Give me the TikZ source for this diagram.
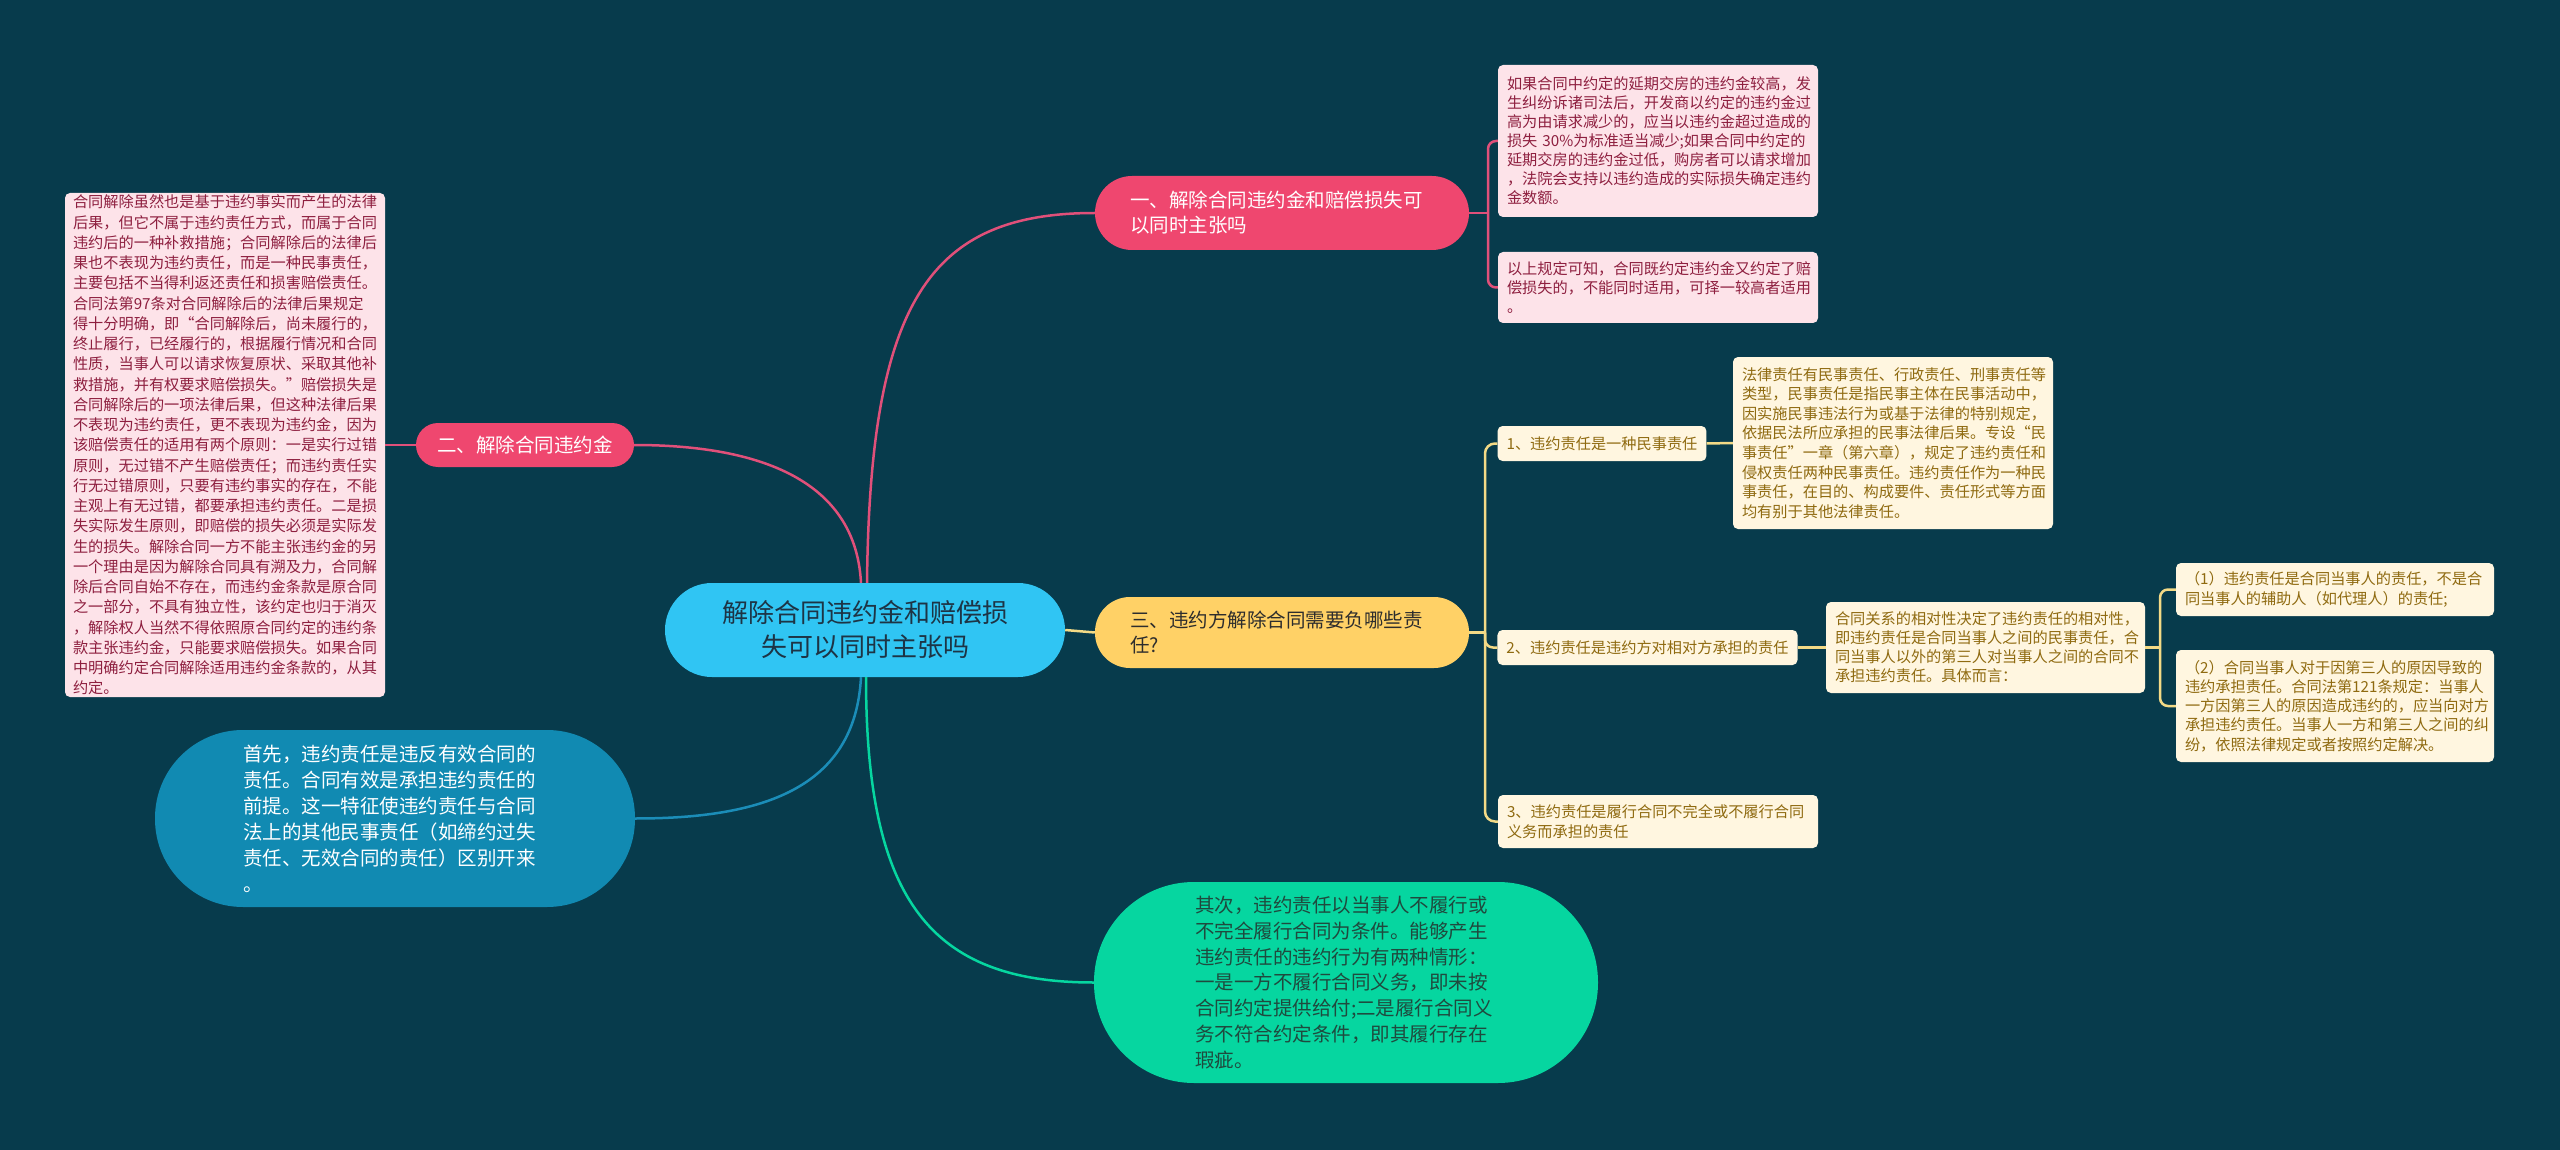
\documentclass[tikz,border=0pt]{standalone}
\usepackage{fontspec}
\newfontfamily\cjk{Noto Sans CJK SC}
\definecolor{bg}{HTML}{073B4C}
\definecolor{cyanC}{HTML}{30C5F3}
\definecolor{ctext}{HTML}{1D3445}
\definecolor{pinkC}{HTML}{EF476F}
\definecolor{pinkLine}{HTML}{E0507A}
\definecolor{yellowC}{HTML}{FFD166}
\definecolor{yellowLine}{HTML}{F3DA86}
\definecolor{greenC}{HTML}{06D6A0}
\definecolor{greenT}{HTML}{1F4A3E}
\definecolor{blueC}{HTML}{118AB2}
\definecolor{blueLine}{HTML}{1B8DB8}
\definecolor{pinkL}{HTML}{FDE3E9}
\definecolor{pinkT}{HTML}{8E1F3F}
\definecolor{yellowL}{HTML}{FFF6E0}
\definecolor{yellowT}{HTML}{8F6A10}
\definecolor{darkT}{HTML}{2D2D2D}
\begin{document}
\begin{tikzpicture}[x=1pt,y=-1pt,
  every node/.style={font=\cjk, inner ysep=0pt},
  fS/.style={font=\cjk\fontsize{15.2pt}{#1}\selectfont},
  fM/.style={font=\cjk\fontsize{19.5pt}{#1}\selectfont},
  pbox/.style={fill=pinkL, text=pinkT, rounded corners=5pt, align=left, inner xsep=9pt},
  ybox/.style={fill=yellowL, text=yellowT, rounded corners=5pt, align=left, inner xsep=9pt},
  pl/.style={draw=pinkLine, line width=2.5pt},
  yl/.style={draw=yellowLine, line width=2.5pt},
  bl/.style={draw=blueLine, line width=2.5pt},
  gl/.style={draw=greenC, line width=2.5pt}]
\fill[bg] (0,0) rectangle (2560,1150);
\useasboundingbox (0,0) rectangle (2560,1150);

% central
\node[fill=cyanC, text=ctext, minimum width=400pt, minimum height=94pt, rounded corners=47pt,
  align=center, font=\cjk\fontsize{26pt}{34pt}\selectfont] (c) at (865,630)
  {解除合同违约金和赔偿损\\失可以同时主张吗};

% main branches
\node[fill=pinkC, text=white, text width=304pt, inner xsep=35pt, minimum height=74pt,
  rounded corners=37pt, align=left, fM=25pt] (n1) at (1282,213)
  {一、解除合同违约金和赔偿损失可\\以同时主张吗};
\node[fill=yellowC, text=darkT, text width=304pt, inner xsep=35pt, minimum height=71pt,
  rounded corners=35pt, align=left, fM=25pt] (n3) at (1282,632.5)
  {三、违约方解除合同需要负哪些责\\任?};
\node[fill=pinkC, text=white, minimum width=218pt, minimum height=44pt,
  rounded corners=22pt, fM=25pt] (n2) at (525,445) {二、解除合同违约金};
\node[fill=blueC, text=white, text width=304pt, inner xsep=88pt, minimum height=177pt,
  rounded corners=88pt, align=left, fM=26pt] (bn) at (395,818.5)
  {首先，违约责任是违反有效合同的\\责任。合同有效是承担违约责任的\\前提。这一特征使违约责任与合同\\法上的其他民事责任（如缔约过失\\责任、无效合同的责任）区别开来\\。};
\node[fill=greenC, text=greenT, text width=302pt, inner xsep=101pt, minimum height=201pt,
  rounded corners=100pt, align=left, fM=25.8pt] (gn) at (1346,982.5)
  {其次，违约责任以当事人不履行或\\不完全履行合同为条件。能够产生\\违约责任的违约行为有两种情形：\\一是一方不履行合同义务，即未按\\合同约定提供给付;二是履行合同义\\务不符合约定条件，即其履行存在\\瑕疵。};

% left detail
\node[pbox, text width=304pt, inner xsep=8pt, minimum height=504pt, fS=20.25pt] (tl) at (225,445)
  {合同解除虽然也是基于违约事实而产生的法律\\后果，但它不属于违约责任方式，而属于合同\\违约后的一种补救措施；合同解除后的法律后\\果也不表现为违约责任，而是一种民事责任，\\主要包括不当得利返还责任和损害赔偿责任。\\合同法第97条对合同解除后的法律后果规定\\得十分明确，即“合同解除后，尚未履行的，\\终止履行，已经履行的，根据履行情况和合同\\性质，当事人可以请求恢复原状、采取其他补\\救措施，并有权要求赔偿损失。”赔偿损失是\\合同解除后的一项法律后果，但这种法律后果\\不表现为违约责任，更不表现为违约金，因为\\该赔偿责任的适用有两个原则：一是实行过错\\原则，无过错不产生赔偿责任；而违约责任实\\行无过错原则，只要有违约事实的存在，不能\\主观上有无过错，都要承担违约责任。二是损\\失实际发生原则，即赔偿的损失必须是实际发\\生的损失。解除合同一方不能主张违约金的另\\一个理由是因为解除合同具有溯及力，合同解\\除后合同自始不存在，而违约金条款是原合同\\之一部分，不具有独立性，该约定也归于消灭\\，解除权人当然不得依照原合同约定的违约条\\款主张违约金，只能要求赔偿损失。如果合同\\中明确约定合同解除适用违约金条款的，从其\\约定。};

% right pink details
\node[pbox, text width=302pt, minimum height=152pt, fS=19pt] (r1) at (1658,141)
  {如果合同中约定的延期交房的违约金较高，发\\生纠纷诉诸司法后，开发商以约定的违约金过\\高为由请求减少的，应当以违约金超过造成的\\损失~30\%为标准适当减少;如果合同中约定的\\延期交房的违约金过低，购房者可以请求增加\\，法院会支持以违约造成的实际损失确定违约\\金数额。};
\node[pbox, text width=302pt, minimum height=71pt, fS=19pt] (r2) at (1658,287.5)
  {以上规定可知，合同既约定违约金又约定了赔\\偿损失的，不能同时适用，可择一较高者适用\\。};

% yellow sub nodes
\node[ybox, minimum width=208pt, minimum height=35pt, align=center, fS=19pt] (s1) at (1602,443.5)
  {1、违约责任是一种民事责任};
\node[ybox, minimum width=299pt, minimum height=35pt, align=center, fS=19pt] (s2) at (1647.5,647.5)
  {2、违约责任是违约方对相对方承担的责任};
\node[ybox, text width=302pt, minimum height=53pt, fS=19.5pt] (s3) at (1658,821.5)
  {3、违约责任是履行合同不完全或不履行合同\\义务而承担的责任};
\node[ybox, text width=302pt, minimum height=172pt, fS=19.6pt] (y1) at (1893,443)
  {法律责任有民事责任、行政责任、刑事责任等\\类型，民事责任是指民事主体在民事活动中，\\因实施民事违法行为或基于法律的特别规定，\\依据民法所应承担的民事法律后果。专设“民\\事责任”一章（第六章），规定了违约责任和\\侵权责任两种民事责任。违约责任作为一种民\\事责任，在目的、构成要件、责任形式等方面\\均有别于其他法律责任。};
\node[ybox, text width=301pt, minimum height=91pt, fS=19pt] (y2) at (1985.5,647.5)
  {合同关系的相对性决定了违约责任的相对性，\\即违约责任是合同当事人之间的民事责任，合\\同当事人以外的第三人对当事人之间的合同不\\承担违约责任。具体而言：};
\node[ybox, text width=300pt, minimum height=53pt, fS=19.5pt] (y3) at (2335,589.5)
  {（1）违约责任是合同当事人的责任，不是合\\同当事人的辅助人（如代理人）的责任;};
\node[ybox, text width=300pt, minimum height=112pt, fS=19.3pt] (y4) at (2335,706)
  {（2）合同当事人对于因第三人的原因导致的\\违约承担责任。合同法第121条规定：当事人\\一方因第三人的原因造成违约的，应当向对方\\承担违约责任。当事人一方和第三人之间的纠\\纷，依照法律规定或者按照约定解决。};

% connectors from centre
\draw[pl] ([xshift=2pt]c.north) .. controls (870,300) and (930,213) .. (n1.west);
\draw[pl] ([xshift=-4pt]c.north) .. controls (855,470) and (740,445) .. (n2.east);
\draw[yl] (c.east) -- (n3.west);
\draw[bl] ([xshift=-4pt]c.south) .. controls (855,790) and (760,818.5) .. (bn.east);
\draw[gl] ([xshift=1pt]c.south) .. controls (866,900) and (930,982.5) .. (gn.west);

% left
\draw[pl] (n2.west) -- (tl.east);

% pink bracket
\coordinate (j1) at (1488,213);
\draw[pl] (n1.east) -- (j1);
\draw[pl, rounded corners=8pt] (r1.west) -| (j1) |- (r2.west);

% yellow bracket
\coordinate (j3) at (1485,632.5);
\draw[yl] (n3.east) -- (j3);
\draw[yl, rounded corners=10pt] (s1.west) -| (j3) |- (s3.west);
\draw[yl, rounded corners=8pt] (j3) |- (s2.west);
\draw[yl] (s1.east) -- (y1.west);
\draw[yl] (s2.east) -- (y2.west);

\coordinate (j4) at (2160,647.5);
\draw[yl] (y2.east) -- (j4);
\draw[yl, rounded corners=8pt] (y3.west) -| (j4) |- (y4.west);
\end{tikzpicture}
\end{document}
